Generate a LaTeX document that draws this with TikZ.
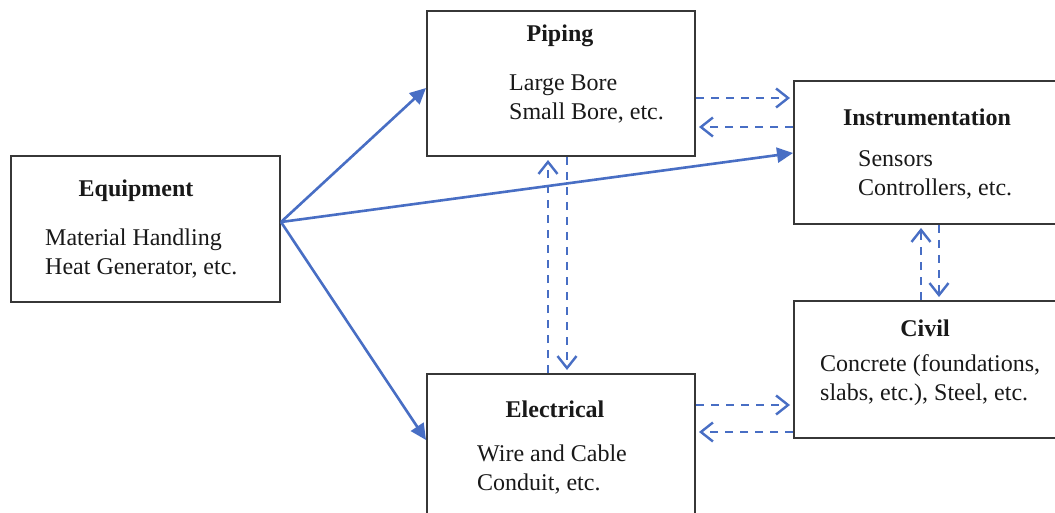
\documentclass[tikz,border=0pt]{standalone}
\usepackage{fontspec}
\setmainfont{Liberation Serif}
\usetikzlibrary{arrows.meta}
\definecolor{arrblue}{RGB}{72,110,196}
\definecolor{boxgray}{RGB}{55,55,55}
\definecolor{txt}{RGB}{25,25,25}
\begin{document}
\begin{tikzpicture}[x=1pt,y=-1pt,
  box/.style={draw=boxgray,line width=2pt,rectangle,inner sep=0pt,anchor=north west},
  ttl/.style={font=\fontsize{24}{28}\selectfont\bfseries,text=txt,inner sep=0pt},
  bdy/.style={font=\fontsize{24}{29}\selectfont,text=txt,align=left,anchor=west,inner sep=0pt},
  solidarr/.style={draw=arrblue,line width=2.6pt,-{Triangle[length=16pt,width=15pt]}},
  dasharr/.style={draw=arrblue,line width=2.4pt,dash pattern=on 8pt off 7pt,-{Straight Barb[length=12pt,width=19pt,line width=2.4pt]}}
]
\clip (0,0) rectangle (1055,513);
\fill[white] (0,0) rectangle (1055,513);

% boxes
\node[box,minimum width=269pt,minimum height=146pt] (eq) at (10,155) {};
\node[box,minimum width=268pt,minimum height=145pt] (pip) at (426,10) {};
\node[box,minimum width=262pt,minimum height=143pt] (ins) at (793,80) {};
\node[box,minimum width=262pt,minimum height=137pt] (civ) at (793,300) {};
\node[box,minimum width=268pt,minimum height=170pt] (ele) at (426,373) {};

% texts
\node[ttl] (eqT) at (136,191) {Equipment};
\node[bdy] (eqB) at (45,254) {Material Handling\\Heat Generator, etc.};
\node[ttl] (pipT) at (560,36) {Piping};
\node[bdy] (pipB) at (509,99) {Large Bore\\Small Bore, etc.};
\node[ttl] (insT) at (927,117) {Instrumentation};
\node[bdy] (insB) at (858,175) {Sensors\\Controllers, etc.};
\node[ttl] (civT) at (925,328) {Civil};
\node[bdy] (civB) at (820,380) {Concrete (foundations,\\slabs, etc.), Steel, etc.};
\node[ttl] (eleT) at (555,409) {Electrical};
\node[bdy] (eleB) at (477,470) {Wire and Cable\\Conduit, etc.};

% solid arrows from equipment
\coordinate (src) at (eq.east |- 0,222);
\draw[solidarr] (src) -- (pip.west |- 0,88);
\draw[solidarr] (src) -- (ins.west |- 0,153);
\draw[solidarr] (src) -- (ele.west |- 0,440);

% dashed double arrows
\draw[dasharr] (pip.east |- 0,98) -- ([xshift=-3pt]ins.west |- 0,98);
\draw[dasharr] (ins.west |- 0,127) -- ([xshift=3pt]pip.east |- 0,127);
\draw[dasharr] (ele.north -| 548,0) -- ([yshift=-3pt]pip.south -| 548,0);
\draw[dasharr] (pip.south -| 567,0) -- ([yshift=3pt]ele.north -| 567,0);
\draw[dasharr] (civ.north -| 921,0) -- ([yshift=-3pt]ins.south -| 921,0);
\draw[dasharr] (ins.south -| 939,0) -- ([yshift=3pt]civ.north -| 939,0);
\draw[dasharr] (ele.east |- 0,405) -- ([xshift=-3pt]civ.west |- 0,405);
\draw[dasharr] (civ.west |- 0,432) -- ([xshift=3pt]ele.east |- 0,432);
\end{tikzpicture}
\end{document}
